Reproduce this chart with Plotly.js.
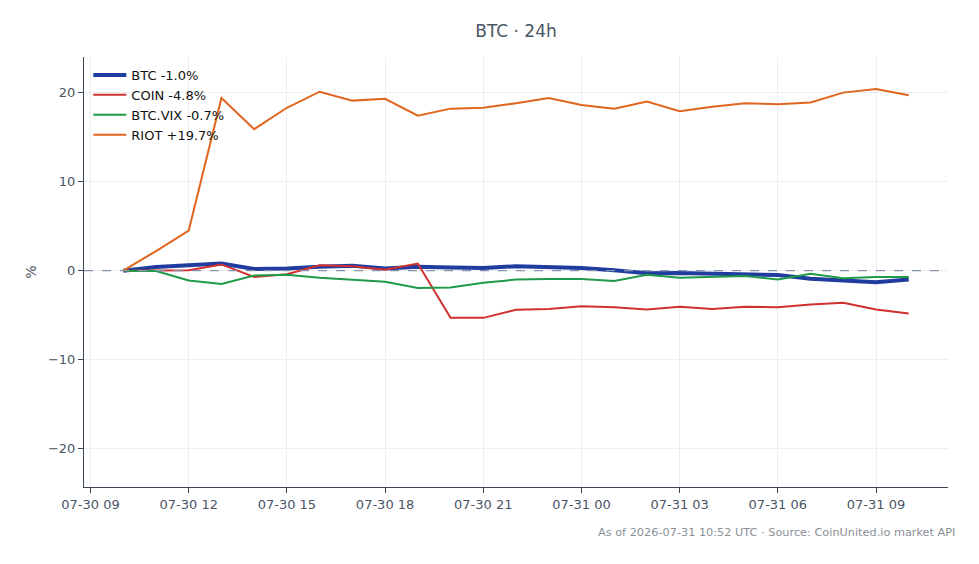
<!DOCTYPE html>
<html>
<head>
<meta charset="utf-8">
<script src="https://cdn.plot.ly/plotly-3.0.1.min.js"></script>
<style>html,body{margin:0;padding:0;background:#fff;}#chart{width:979px;height:564px;}</style>
</head>
<body>
<div id="chart"></div>
<script>
const times = [
  "2026-07-30 10:00","2026-07-30 11:00","2026-07-30 12:00","2026-07-30 13:00","2026-07-30 14:00",
  "2026-07-30 15:00","2026-07-30 16:00","2026-07-30 17:00","2026-07-30 18:00","2026-07-30 19:00",
  "2026-07-30 20:00","2026-07-30 21:00","2026-07-30 22:00","2026-07-30 23:00","2026-07-31 00:00",
  "2026-07-31 01:00","2026-07-31 02:00","2026-07-31 03:00","2026-07-31 04:00","2026-07-31 05:00",
  "2026-07-31 06:00","2026-07-31 07:00","2026-07-31 08:00","2026-07-31 09:00","2026-07-31 10:00"
];
const btc = [0, 0.4, 0.6, 0.8, 0.2, 0.25, 0.45, 0.55, 0.25, 0.45, 0.35, 0.3, 0.5, 0.4, 0.3, 0.05, -0.3, -0.25, -0.3, -0.35, -0.5, -0.9, -1.1, -1.3, -1.0];
const coin = [0, 0.0, 0.05, 0.7, -0.7, -0.4, 0.6, 0.5, 0.1, 0.8, -5.3, -5.3, -4.4, -4.3, -4.0, -4.1, -4.35, -4.05, -4.3, -4.05, -4.1, -3.8, -3.6, -4.35, -4.8];
const vix = [0, -0.05, -1.1, -1.5, -0.55, -0.45, -0.8, -1.0, -1.25, -1.95, -1.9, -1.35, -1.0, -0.95, -0.95, -1.15, -0.45, -0.8, -0.7, -0.6, -1.0, -0.35, -0.85, -0.7, -0.7];
const riot = [0, 2.2, 4.5, 19.4, 15.9, 18.3, 20.1, 19.1, 19.3, 17.4, 18.2, 18.3, 18.8, 19.4, 18.6, 18.2, 19.0, 17.9, 18.4, 18.8, 18.7, 18.9, 20.0, 20.4, 19.7];
const names = ["BTC -1.0%", "COIN -4.8%", "BTC.VIX -0.7%", "RIOT +19.7%"];
const colors = ["#1f3c9e", "#d0302f", "#1f9a48", "#e0661f"];
const widths = [4, 2, 2, 2];
const series = [btc, coin, vix, riot];
const tickVals = [-20, -10, 0, 10, 20];

const traces = series.map((s, i) => ({
  x: times, y: s, type: "scatter", mode: "lines", name: names[i],
  line: {color: colors[i], width: widths[i]}
}));

const font = "DejaVu Sans, sans-serif";
const layout = {
  width: 979, height: 564,
  margin: {l: 84, r: 31, t: 57, b: 77},
  paper_bgcolor: "#fff", plot_bgcolor: "#fff",
  font: {family: font, size: 13, color: "#4a5565"},
  title: {text: "BTC · 24h", x: 0.5, xref: "paper", y: 0.945, yanchor: "middle", font: {family: font, size: 17, color: "#4a5565"}},
  showlegend: true,
  legend: {x: 0.005, y: 0.993, xanchor: "left", yanchor: "top", itemwidth: 33, bgcolor: "rgba(255,255,255,0)", font: {family: font, size: 13, color: "#111"}, tracegroupgap: 0},
  xaxis: {
    type: "date", automargin: false,
    range: ["2026-07-30 08:48", "2026-07-31 11:12"],
    tick0: "2026-07-30 09:00", dtick: 10800000, tickformat: "%m-%d %H",
    showgrid: true, gridcolor: "#eceef1", gridwidth: 1,
    showline: true, linecolor: "#3a4656", linewidth: 1,
    ticks: "outside", ticklen: 5, tickcolor: "#3a4656",
    tickfont: {family: font, size: 13, color: "#4a5565"},
    zeroline: false
  },
  yaxis: {
    range: [-24.3, 24], automargin: false,
    tickvals: tickVals,
    showgrid: true, gridcolor: "#eceef1", gridwidth: 1,
    showline: true, linecolor: "#3a4656", linewidth: 1,
    ticks: "outside", ticklen: 5, tickcolor: "#3a4656",
    tickfont: {family: font, size: 13, color: "#4a5565"},
    zeroline: false,
    title: {text: "%", font: {family: font, size: 14, color: "#4a5565"}, standoff: 8}
  },
  shapes: [{
    type: "line", xref: "paper", x0: 0, x1: 1, yref: "y", y0: 0, y1: 0,
    line: {color: "#8793ad", width: 1.2, dash: "dash"}, layer: "above"
  }],
  annotations: [{
    text: "As of 2026-07-31 10:52 UTC · Source: CoinUnited.io market API",
    xref: "paper", yref: "paper", x: 1.01, y: -0.105, xanchor: "right", yanchor: "middle",
    showarrow: false, font: {family: font, size: 11.3, color: "#8a8f98"}
  }]
};

Plotly.newPlot("chart", traces, layout, {displayModeBar: false, staticPlot: true});
</script>
</body>
</html>
